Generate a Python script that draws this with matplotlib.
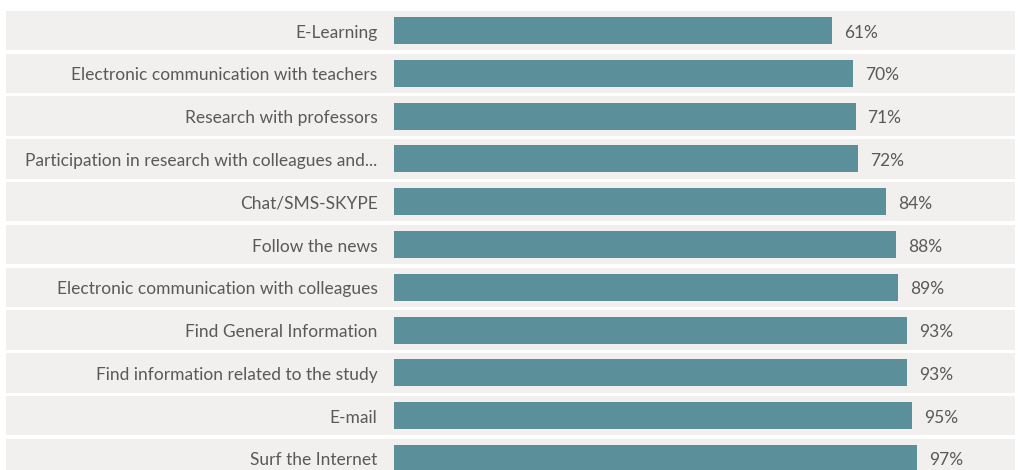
import numpy as np
import matplotlib
matplotlib.use("Agg")
from matplotlib import pyplot as plt

# categories top to bottom, and the shares printed next to each bar
categories = [
    "E-Learning",
    "Electronic communication with teachers",
    "Research with professors",
    "Participation in research with colleagues and...",
    "Chat/SMS-SKYPE",
    "Follow the news",
    "Electronic communication with colleagues",
    "Find General Information",
    "Find information related to the study",
    "E-mail",
    "Surf the Internet",
]
values = [61, 70, 71, 72, 84, 88, 89, 93, 93, 95, 97]
value_labels = [f"{v}%" for v in values]

bar_color = "#5b8f99"
band_color = "#f2f0ee"
text_color = "#595959"

plt.rcParams['font.family'] = ['Lato', 'DejaVu Sans']

fig = plt.figure(figsize=(10.18, 4.70), dpi=100)
ax = fig.add_axes([0, 0, 1, 1])

# the value axis of the original does not start at zero
axis_start = -125
band_left, band_right = -289.5, 138.6

y = np.arange(len(categories))
ax.barh(y, band_right - band_left, left=band_left, height=0.92,
        color=band_color, zorder=1)
ax.barh(y, np.array(values) - axis_start, left=axis_start, height=0.63,
        color=bar_color, zorder=2)

for yi, cat, v, lab in zip(y, categories, values, value_labels):
    ax.annotate(cat, xy=(axis_start, yi), xytext=(-16, -2),
                textcoords="offset pixels", ha="right", va="center",
                fontsize=12.5, color=text_color)
    ax.annotate(lab, xy=(v, yi), xytext=(12, -2),
                textcoords="offset pixels", ha="left", va="center",
                fontsize=12.5, color=text_color)

ax.set_xlim(-292.0, 139.9)
ax.set_ylim(10.269, -0.713)
ax.axis("off")

fig.savefig("out.png", dpi=100, facecolor="white")
